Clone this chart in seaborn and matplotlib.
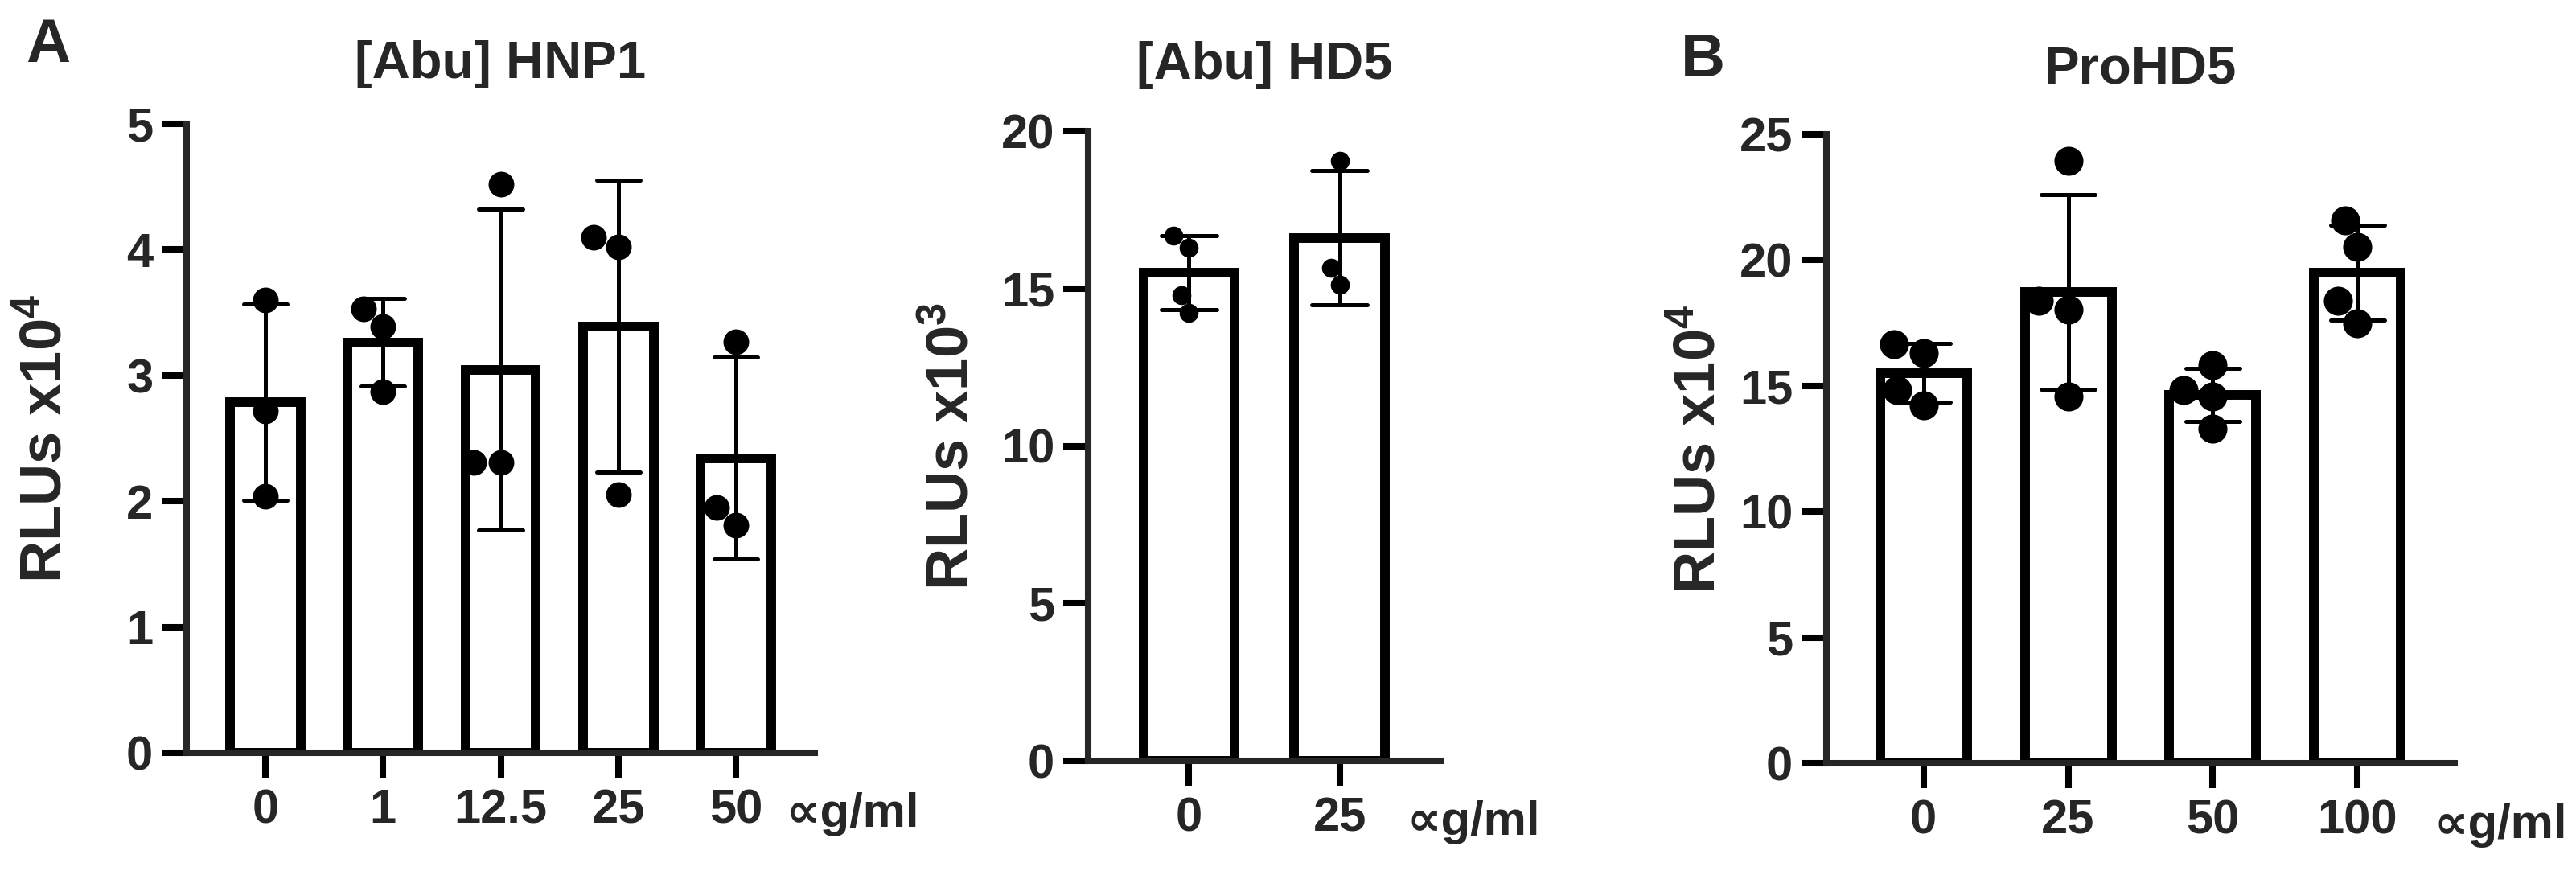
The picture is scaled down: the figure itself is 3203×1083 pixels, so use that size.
import matplotlib
matplotlib.use("Agg")
import matplotlib.pyplot as plt
import seaborn as sns
import pandas as pd

# replicate values (RLUs)
hnp1_conc = ["0", "1", "12.5", "25", "50"]
hnp1_reps = [[3.60, 2.72, 2.04],
             [3.53, 3.39, 2.87],
             [4.52, 2.31, 2.31],
             [4.10, 4.02, 2.05],
             [3.27, 1.81, 1.95]]

hd5_conc = ["0", "25"]
hd5_reps = [[16.29, 16.68, 14.79, 14.23],
            [19.05, 15.66, 15.11]]

prohd5_conc = ["0", "25", "50", "100"]
prohd5_reps = [[16.32, 16.67, 14.24, 14.84],
               [23.94, 18.37, 18.04, 14.58],
               [14.84, 15.83, 14.58, 13.29],
               [21.58, 20.52, 17.49, 18.37]]

sns.set_style("ticks")
plt.rcParams["font.family"] = ["Liberation Sans", "DejaVu Sans"]
plt.rcParams["font.weight"] = "bold"
plt.rcParams["mathtext.default"] = "regular"

W, H = 3203, 1083
fig = plt.figure(figsize=(W / 100, H / 100), dpi=100)


def to_long(conc, reps):
    rows = []
    for c, vals in zip(conc, reps):
        for v in vals:
            rows.append({"conc": c, "rlu": v})
    return pd.DataFrame(rows)


def panel(box, conc, reps, ymax, ystep, dot, title, title_pad, ylabel, label_x, unit_pos):
    # box in pixels: left, y of zero line, right, y of top
    left, y0, right, ytop = box
    ax = fig.add_axes([left / W, (H - y0) / H, (right - left) / W, (y0 - ytop) / H])
    df = to_long(conc, reps)
    sns.barplot(data=df, x="conc", y="rlu", order=conc, errorbar="sd", capsize=0.37,
                width=0.6, color="white", saturation=1, edgecolor="black", linewidth=8.6,
                err_kws={"color": "black", "linewidth": 3.6}, ax=ax)
    sns.swarmplot(data=df, x="conc", y="rlu", order=conc, color="black", size=dot,
                  linewidth=0, ax=ax, zorder=4)
    ax.set_xlim(-0.67, len(conc) - 1 + 0.67)
    ax.set_ylim(0, ymax)
    ax.set_yticks(range(0, ymax + 1, ystep))
    ax.spines[["top", "right"]].set_visible(False)
    for s in ["left", "bottom"]:
        ax.spines[s].set_linewidth(5.8)
    ax.tick_params(axis="both", length=22, width=5.8, labelsize=43, color="black")
    ax.tick_params(axis="x", pad=10)
    ax.tick_params(axis="y", pad=8)
    ax.set_xlabel("")
    ax.set_ylabel(ylabel, fontsize=52, fontweight="bold")
    ax.yaxis.set_label_coords(label_x, 0.5)
    ax.set_title(title, fontsize=47, fontweight="bold", pad=title_pad)
    fig.text(unit_pos[0] / W, 1 - unit_pos[1] / H, "\u221dg/ml", fontsize=43,
             fontweight="bold", ha="left", va="baseline")
    return ax


panel((232, 936, 1013, 154), hnp1_conc, hnp1_reps, 5, 1, 23,
      "[Abu] HNP1", 41, "RLUs x10$^{4}$", -0.18, (978, 1028))
panel((1353, 946, 1791, 163), hd5_conc, hd5_reps, 20, 5, 17,
      "[Abu] HD5", 47, "RLUs x10$^{3}$", -0.31, (1750, 1038))
panel((2271, 949, 3052, 167), prohd5_conc, prohd5_reps, 25, 5, 26,
      "ProHD5", 46, "RLUs x10$^{4}$", -0.158, (3027, 1042))

fig.text(32 / W, 1 - 77 / H, "A", fontsize=55, fontweight="bold", ha="left", va="baseline")
fig.text(2090 / W, 1 - 95 / H, "B", fontsize=55, fontweight="bold", ha="left", va="baseline")

fig.savefig("out.png", dpi=100, facecolor="white")
